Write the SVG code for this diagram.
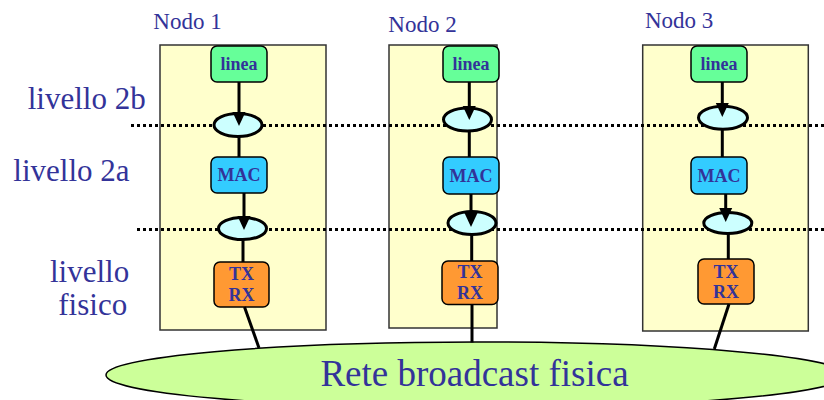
<svg xmlns="http://www.w3.org/2000/svg" width="824" height="400" viewBox="0 0 824 400">
<style>
.lbl{font-family:"Liberation Serif","Times New Roman",serif;fill:#333399}
.big{font-size:31px}
.nodo{font-size:23px}
.bx{font-family:"Liberation Serif","Times New Roman",serif;font-weight:bold;font-size:18px;fill:#333399;text-anchor:middle}
.cont{fill:#FFFFCC;stroke:#333333;stroke-width:1.5}
.linea{fill:#66FF99;stroke:#000;stroke-width:1.5}
.mac{fill:#33CCFF;stroke:#000;stroke-width:1.5}
.txrx{fill:#FF9933;stroke:#000;stroke-width:1.5}
.sap{fill:#CCFFFF;stroke:#000;stroke-width:3}
.dot{stroke:#000;stroke-width:3;stroke-dasharray:3 3;fill:none}
.c{stroke:#000;stroke-width:3;fill:none}
.a{stroke:#000;stroke-width:3;fill:none;marker-end:url(#ah)}
</style>
<defs>
<marker id="ah" markerUnits="userSpaceOnUse" markerWidth="15" markerHeight="14" refX="4" refY="7" orient="auto" viewBox="0 0 15 14">
<path d="M0,0.5 L14,7 L0,13.5 z" fill="#000"/>
</marker>
</defs>

<g id="rete">
<ellipse cx="476" cy="375" rx="370" ry="33" fill="#CCFF99" stroke="#000" stroke-width="1.5"/>
<text class="lbl" x="474.5" y="386" font-size="37" text-anchor="middle">Rete broadcast fisica</text>
</g>

<g id="nodo1-box"><rect class="cont" x="160" y="45" width="166" height="285"/><text class="lbl nodo" x="153.3" y="29.3">Nodo 1</text></g>
<g id="nodo2-box"><rect class="cont" x="389" y="45" width="108" height="283"/><text class="lbl nodo" x="388.3" y="32.3">Nodo 2</text></g>
<g id="nodo3-box"><rect class="cont" x="642.7" y="45" width="165.6" height="286"/><text class="lbl nodo" x="645" y="28.3">Nodo 3</text></g>

<g id="livelli">
<text class="lbl big" x="27.7" y="109.3">livello 2b</text>
<text class="lbl big" x="13.3" y="181">livello 2a</text>
<text class="lbl big" x="50" y="282.3">livello</text>
<text class="lbl big" x="58.3" y="315">fisico</text>
<line class="dot" x1="131" y1="125.5" x2="824" y2="125.5"/>
<line class="dot" x1="137" y1="229.5" x2="824" y2="229.5"/>
</g>

<g id="nodo1">
<g id="n1-linea"><rect class="linea" x="211" y="46" width="56" height="36" rx="6"/><text class="bx" x="239" y="69.5">linea</text></g>
<g id="n1-sap2b"><ellipse class="sap" cx="238" cy="125" rx="24" ry="11.5"/></g>
<g id="n1-mac"><rect class="mac" x="211" y="157" width="56" height="36" rx="6"/><text class="bx" x="239" y="181">MAC</text></g>
<g id="n1-sap2a"><ellipse class="sap" cx="242.5" cy="228.5" rx="24" ry="11"/></g>
<g id="n1-txrx"><rect class="txrx" x="214" y="262" width="55" height="45" rx="6"/><text class="bx" x="241.5" y="279.5">TX</text><text class="bx" x="241.5" y="300.5">RX</text></g>
</g>

<g id="nodo2">
<g id="n2-linea"><rect class="linea" x="443" y="46" width="56" height="36" rx="6"/><text class="bx" x="471" y="69.5">linea</text></g>
<g id="n2-sap2b"><ellipse class="sap" cx="467.5" cy="119.5" rx="24" ry="11.5"/></g>
<g id="n2-mac"><rect class="mac" x="443" y="157" width="56" height="37" rx="6"/><text class="bx" x="471" y="181.5">MAC</text></g>
<g id="n2-sap2a"><ellipse class="sap" cx="472" cy="223" rx="24" ry="11.5"/></g>
<g id="n2-txrx"><rect class="txrx" x="442" y="261" width="56" height="43.5" rx="6"/><text class="bx" x="470" y="277.5">TX</text><text class="bx" x="470" y="298.5">RX</text></g>
</g>

<g id="nodo3">
<g id="n3-linea"><rect class="linea" x="691" y="46" width="56" height="36" rx="6"/><text class="bx" x="719" y="69.5">linea</text></g>
<g id="n3-sap2b"><ellipse class="sap" cx="723" cy="117.7" rx="24.5" ry="11.5"/></g>
<g id="n3-mac"><rect class="mac" x="691" y="157" width="56" height="37" rx="6"/><text class="bx" x="719" y="181.5">MAC</text></g>
<g id="n3-sap2a"><ellipse class="sap" cx="727.8" cy="223" rx="24" ry="10.5"/></g>
<g id="n3-txrx"><rect class="txrx" x="698" y="259" width="56" height="45" rx="6"/><text class="bx" x="726" y="277.5">TX</text><text class="bx" x="726" y="298">RX</text></g>
</g>

<g id="connettori">
<line class="a" x1="239" y1="82" x2="239" y2="116"/>
<line class="c" x1="239" y1="136.5" x2="239" y2="157"/>
<line class="a" x1="244" y1="193" x2="244" y2="220"/>
<line class="c" x1="243" y1="239.5" x2="243" y2="262"/>
<line class="c" x1="244.5" y1="307" x2="259" y2="348"/>

<line class="a" x1="469.3" y1="82" x2="469.3" y2="110"/>
<line class="c" x1="469.3" y1="131" x2="469.3" y2="157"/>
<line class="a" x1="471" y1="194" x2="471" y2="217"/>
<line class="c" x1="471.7" y1="234.5" x2="471.7" y2="261"/>
<line class="c" x1="472" y1="304.5" x2="472" y2="342.5"/>

<line class="a" x1="722.3" y1="82" x2="722.3" y2="107"/>
<line class="c" x1="722.3" y1="129" x2="722.3" y2="157"/>
<line class="a" x1="725.7" y1="194" x2="725.7" y2="212"/>
<line class="c" x1="728.3" y1="233.5" x2="728.3" y2="259"/>
<line class="c" x1="729" y1="304" x2="714.3" y2="349"/>
</g>
</svg>
